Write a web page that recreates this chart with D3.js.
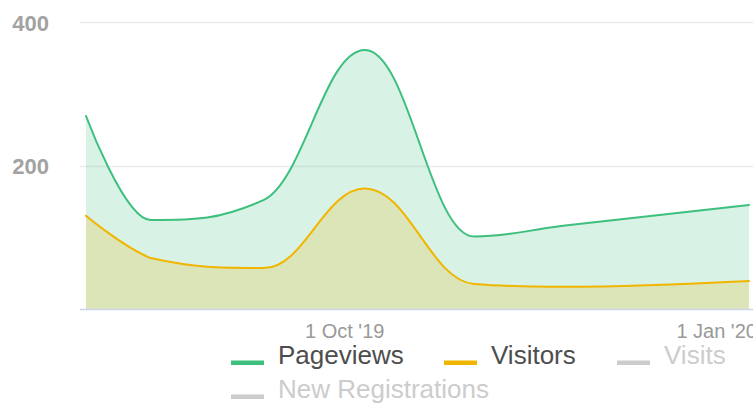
<!DOCTYPE html>
<html>
<head>
<meta charset="utf-8">
<script src="https://cdn.jsdelivr.net/npm/d3@7"></script>
<style>
  html, body { margin: 0; padding: 0; background: #ffffff; }
  svg { display: block; font-family: "Liberation Sans", Arial, Helvetica, sans-serif; }
</style>
</head>
<body>
<svg id="chart" width="753" height="403"></svg>
<script>
// ---- data ----
const dates = ["2019-07-29", "2019-08-14", "2019-09-11", "2019-10-06", "2019-11-02", "2019-11-24", "2020-01-09"];
const pageviews = [269, 124, 152, 361, 101, 116, 145];
const visitors = [130, 71, 57, 168, 35, 31, 39];
const yTicks = [200, 400];
const seriesNames = ["Pageviews", "Visitors", "Visits", "New Registrations"];
const seriesVisible = [true, true, false, false];
const seriesColors = ["#3dbf7d", "#f1b500"];

// ---- Highcharts-like spline curve ----
function HCSpline(context) { this._context = context; }
HCSpline.prototype = {
  areaStart() { this._line = 0; },
  areaEnd() { this._line = NaN; },
  lineStart() { this._pts = []; },
  point(x, y) { this._pts.push([+x, +y]); },
  lineEnd() {
    const p = this._pts, n = p.length, ctx = this._context;
    if (n) {
      if (this._line) ctx.lineTo(p[0][0], p[0][1]); else ctx.moveTo(p[0][0], p[0][1]);
      const sm = 1.5, den = sm + 1, rc = [];
      for (let i = 1; i < n; i++) {
        const x = p[i][0], y = p[i][1];
        let lx = x, ly = y;
        if (i < n - 1) {
          const px = p[i - 1][0], py = p[i - 1][1], nx = p[i + 1][0], ny = p[i + 1][1];
          lx = (sm * x + px) / den; ly = (sm * y + py) / den;
          let rx = (sm * x + nx) / den, ry = (sm * y + ny) / den;
          let corr = 0;
          if (rx !== lx) corr = ((ry - ly) * (rx - x)) / (rx - lx) + y - ry;
          ly += corr; ry += corr;
          if (ly > py && ly > y) { ly = Math.max(py, y); ry = 2 * y - ly; }
          else if (ly < py && ly < y) { ly = Math.min(py, y); ry = 2 * y - ly; }
          if (ry > ny && ry > y) { ry = Math.max(ny, y); ly = 2 * y - ry; }
          else if (ry < ny && ry < y) { ry = Math.min(ny, y); ly = 2 * y - ry; }
          rc[i] = [rx, ry];
        }
        const prc = rc[i - 1] || p[i - 1];
        ctx.bezierCurveTo(prc[0], prc[1], lx, ly, x, y);
      }
    }
    if (this._line || (this._line !== 0 && n === 1)) ctx.closePath();
    this._line = 1 - this._line;
  }
};
const curveHC = ctx => new HCSpline(ctx);

// ---- layout ----
const svg = d3.select("#chart");
const parse = d3.timeParse("%Y-%m-%d");
const xDates = dates.map(parse);

const plotLeft = 80, plotRight = 753;
const x = d3.scaleTime().domain(d3.extent(xDates)).range([86, 749]);
const y = d3.scaleLinear().domain([0, 400]).range([309, 22]);

// gridlines
svg.append("g").selectAll("line").data(yTicks).join("line")
  .attr("x1", plotLeft).attr("x2", plotRight)
  .attr("y1", d => Math.round(y(d)) + 0.5).attr("y2", d => Math.round(y(d)) + 0.5)
  .attr("stroke", "#ececec").attr("stroke-width", 1.5);

// y labels
svg.append("g").selectAll("text").data(yTicks).join("text")
  .attr("x", 49).attr("y", d => y(d) + 1)
  .attr("text-anchor", "end").attr("dominant-baseline", "central")
  .attr("font-size", 22).attr("font-weight", "bold").attr("fill", "#a2a2a2")
  .text(d => d);

// series
const series = [pageviews, visitors];
series.forEach((vals, si) => {
  const pts = vals.map((v, i) => ({ d: xDates[i], v }));
  const area = d3.area().x(d => x(d.d)).y0(y(0)).y1(d => y(d.v)).curve(curveHC);
  svg.append("path").datum(pts).attr("d", area)
    .attr("fill", seriesColors[si]).attr("fill-opacity", 0.2);
});
series.forEach((vals, si) => {
  const pts = vals.map((v, i) => ({ d: xDates[i], v }));
  const line = d3.line().x(d => x(d.d)).y(d => y(d.v)).curve(curveHC);
  svg.append("path").datum(pts).attr("d", line)
    .attr("fill", "none").attr("stroke", seriesColors[si]).attr("stroke-width", 2)
    .attr("stroke-linejoin", "round").attr("stroke-linecap", "round");
});

// x axis line
svg.append("line").attr("x1", plotLeft).attr("x2", plotRight)
  .attr("y1", y(0) + 0.5).attr("y2", y(0) + 0.5)
  .attr("stroke", "#ccd6eb").attr("stroke-width", 1.5);

// x tick labels
const fmt = d3.timeFormat("%-d %b '%y");
svg.append("g").selectAll("text").data(x.ticks(d3.timeMonth.every(3))).join("text")
  .attr("x", d => x(d)).attr("y", 338)
  .attr("text-anchor", "middle").attr("font-size", 20).attr("fill", "#999999")
  .text(d => fmt(d));

// legend
const legendPos = [[231, 364], [444, 364], [617, 364], [231, 398]];
const legend = svg.append("g").selectAll("g").data(seriesNames).join("g")
  .attr("transform", (d, i) => `translate(${legendPos[i][0]},${legendPos[i][1]})`);
legend.append("rect").attr("x", 0).attr("y", -3.5).attr("width", 33).attr("height", 4.5)
  .attr("fill", (d, i) => seriesVisible[i] ? seriesColors[i] : "#cccccc");
legend.append("text").attr("x", 47).attr("y", 0)
  .attr("font-size", 26).attr("fill", (d, i) => seriesVisible[i] ? "#4d4d4d" : "#cccccc")
  .text(d => d);
</script>
</body>
</html>
